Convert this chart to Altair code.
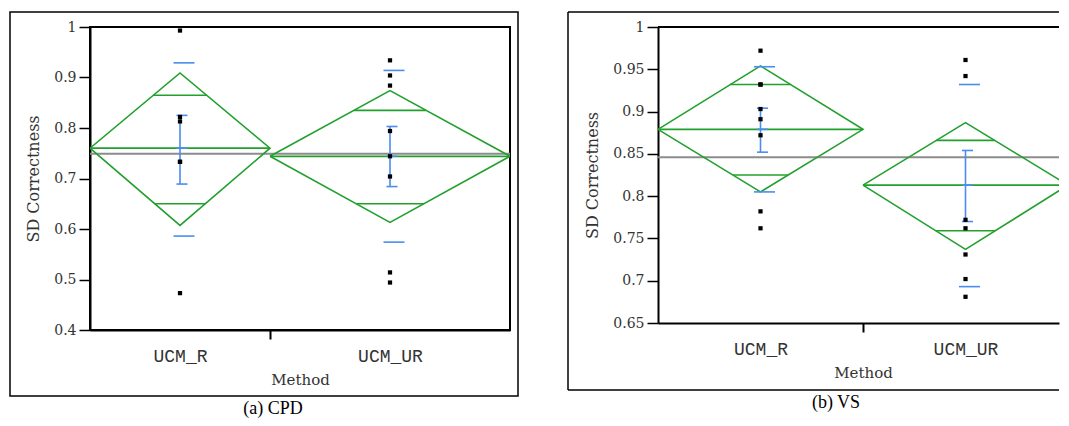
import altair as alt
import pandas as pd

METHODS = ["UCM_R", "UCM_UR"]

# ---------- panel (a) CPD ----------
A_N = [6, 8]
A_MEAN = [0.760, 0.744]
A_CI_HI = [0.909, 0.874]
A_CI_LO = [0.607, 0.613]
A_OV_HI = [0.865, 0.835]
A_OV_LO = [0.650, 0.650]
A_SE_HI = [0.825, 0.803]
A_SE_LO = [0.689, 0.684]
A_SD_HI = [0.929, 0.914]
A_SD_LO = [0.586, 0.574]
A_GRAND = 0.749
A_PTS = [
    [0.993, 0.822, 0.813, 0.733, 0.733, 0.473],
    [0.934, 0.904, 0.884, 0.794, 0.744, 0.704, 0.514, 0.494],
]
A_TICKS = [0.4, 0.5, 0.6, 0.7, 0.8, 0.9, 1.0]

# ---------- panel (b) VS ----------
B_N = [8, 8]
B_MEAN = [0.879, 0.813]
B_CI_HI = [0.954, 0.887]
B_CI_LO = [0.805, 0.737]
B_OV_HI = [0.932, 0.866]
B_OV_LO = [0.825, 0.759]
B_SE_HI = [0.904, 0.854]
B_SE_LO = [0.852, 0.770]
B_SD_HI = [0.953, 0.932]
B_SD_LO = [0.805, 0.693]
B_GRAND = 0.846
B_PTS = [
    [0.972, 0.932, 0.932, 0.903, 0.891, 0.872, 0.782, 0.762],
    [0.961, 0.942, 0.772, 0.762, 0.731, 0.702, 0.681],
]
B_TICKS = [0.65, 0.7, 0.75, 0.8, 0.85, 0.9, 0.95, 1.0]

GREEN = "#22a02e"
BLUE = "#4a8cf2"
GRAY = "#8c8c8c"
SERIF = "DejaVu Serif"
MONO = "Liberation Mono"
CAPFONT = "Liberation Serif, Times New Roman, serif"


def panel(caption, n, mean, ci_hi, ci_lo, ov_hi, ov_lo, se_hi, se_lo, sd_hi, sd_lo,
          grand, pts, ticks, width, full_width, height, box_left, box_bottom, full_box):
    total = sum(n)
    # the picture is cropped at the right edge: show only the visible share of the x range
    visible = total * width / full_width
    starts, centers, ends = [], [], []
    acc = 0
    for k in n:
        starts.append(acc)
        centers.append(acc + k / 2)
        ends.append(acc + k)
        acc += k

    groups = pd.DataFrame({
        "method": METHODS, "x0": starts, "xc": centers, "x1": ends,
        "mean": mean, "se_hi": se_hi, "se_lo": se_lo,
    })

    dia = []
    for i, m in enumerate(METHODS):
        verts = [(starts[i], mean[i]), (centers[i], ci_hi[i]), (ends[i], mean[i]),
                 (centers[i], ci_lo[i]), (starts[i], mean[i])]
        for j, (xx, yy) in enumerate(verts):
            dia.append({"method": m, "o": j, "x": xx, "y": yy})
    dia = pd.DataFrame(dia)

    ov = []
    for i, m in enumerate(METHODS):
        half = n[i] / 2
        for val, ci in ((ov_hi[i], ci_hi[i]), (ov_lo[i], ci_lo[i])):
            frac = 1 - abs(val - mean[i]) / abs(ci - mean[i])
            ov.append({"method": m, "y": val,
                       "xa": centers[i] - half * frac, "xb": centers[i] + half * frac})
    ov = pd.DataFrame(ov)

    caps = []
    for i, m in enumerate(METHODS):
        for v in (se_hi[i], se_lo[i], mean[i]):
            caps.append({"method": m, "x": centers[i], "y": v})
    caps = pd.DataFrame(caps)

    sds = []
    for i, m in enumerate(METHODS):
        for v in (sd_hi[i], sd_lo[i]):
            sds.append({"method": m, "x": centers[i], "y": v})
    sds = pd.DataFrame(sds)

    pdf = pd.DataFrame([{"method": METHODS[i], "x": centers[i], "y": v}
                        for i in range(len(METHODS)) for v in pts[i]])

    gm = pd.DataFrame({"x0": [0], "x1": [total], "y": [grand]})
    dummy = pd.DataFrame({"k": [0]})

    xscale = alt.Scale(domain=[0, visible], nice=False, zero=False)
    yscale = alt.Scale(domain=[ticks[0], ticks[-1]], nice=False, zero=False)

    bounds = ends[:-1]
    lab = "''"
    for i in reversed(range(len(METHODS))):
        lab = f"datum.value == {centers[i]} ? '{METHODS[i]}' : " + lab
    test = " || ".join(f"datum.value == {b}" for b in bounds)

    xaxis = alt.Axis(
        values=centers + bounds, labelExpr=lab, title="Method",
        tickColor={"condition": {"test": test, "value": "black"}, "value": "transparent"},
        tickSize=9, tickWidth=2, labelPadding=8, labelFont=MONO, labelFontSize=18,
        labelColor="#333", labelOverlap=False, labelFlush=False,
        domainColor="black", domainWidth=2, grid=False,
        titleFont=SERIF, titleFontSize=15, titleFontWeight="normal",
        titleColor="#333", titlePadding=7, titleX=full_width / 2,
    )
    yaxis = alt.Axis(
        values=ticks, format="~g", title="SD Correctness", tickSize=11,
        tickColor="black", tickWidth=1.5, labelPadding=3, labelFont=SERIF,
        labelFontSize=14, labelColor="#333", labelOverlap=False, labelFlush=False,
        domainColor="black", domainWidth=2, grid=False,
        titleFont=SERIF, titleFontSize=16, titleFontWeight="normal",
        titleColor="#333", titlePadding=12,
    )

    def X(f):
        return alt.X(f, type="quantitative", scale=xscale, axis=xaxis)

    def Y(f):
        return alt.Y(f, type="quantitative", scale=yscale, axis=yaxis)

    grand_layer = alt.Chart(gm).mark_rule(color=GRAY, strokeWidth=1.8, clip=True).encode(
        x=X("x0"), x2="x1:Q", y=Y("y"),
    )
    diamond = alt.Chart(dia).mark_line(color=GREEN, strokeWidth=1.6, clip=True).encode(
        x=X("x"), y=Y("y"), detail="method:N", order="o:Q",
    )
    mean_line = alt.Chart(groups).mark_rule(color=GREEN, strokeWidth=1.8, clip=True).encode(
        x=X("x0"), x2="x1:Q", y=Y("mean"),
    )
    overlap = alt.Chart(ov).mark_rule(color=GREEN, strokeWidth=1.6).encode(
        x=X("xa"), x2="xb:Q", y=Y("y"),
    )
    sd_ticks = alt.Chart(sds).mark_tick(
        color=BLUE, orient="horizontal", size=21, thickness=1.6, xOffset=4, opacity=1
    ).encode(x=X("x"), y=Y("y"))
    se_bar = alt.Chart(groups).mark_rule(color=BLUE, strokeWidth=1.6).encode(
        x=X("xc"), y=Y("se_lo"), y2="se_hi:Q",
    )
    cap_ticks = alt.Chart(caps).mark_tick(
        color=BLUE, orient="horizontal", size=11, thickness=1.6, xOffset=2, opacity=1
    ).encode(x=X("x"), y=Y("y"))
    points = alt.Chart(pdf).mark_square(color="black", size=18, opacity=1).encode(
        x=X("x"), y=Y("y"),
    )

    layers = [grand_layer, diamond, mean_line, overlap, sd_ticks, se_bar, cap_ticks, points]

    if full_box:
        box = alt.Chart(dummy).mark_rect(filled=False, stroke="black", strokeWidth=1.5).encode(
            x=alt.value(box_left), x2=alt.value(width + 8),
            y=alt.value(-15), y2=alt.value(height + box_bottom),
        )
        layers.append(box)
        view = alt.ViewBackground(stroke="black", strokeWidth=2)
    else:
        rules = [
            dict(x=alt.value(0), x2=alt.value(width), y=alt.value(0), w=2),
            dict(x=alt.value(box_left), x2=alt.value(width), y=alt.value(-15), w=1.5),
            dict(x=alt.value(box_left), x2=alt.value(width), y=alt.value(height + box_bottom), w=1.5),
        ]
        for r in rules:
            layers.append(alt.Chart(dummy).mark_rule(color="black", strokeWidth=r["w"]).encode(
                x=r["x"], x2=r["x2"], y=r["y"]))
        layers.append(alt.Chart(dummy).mark_rule(color="black", strokeWidth=1.5).encode(
            x=alt.value(box_left), y=alt.value(-15), y2=alt.value(height + box_bottom)))
        view = alt.ViewBackground(stroke="transparent")

    return alt.layer(*layers).properties(
        width=width, height=height, view=view,
        title=alt.TitleParams(
            caption, orient="bottom", anchor="middle", frame="group",
            dx=full_width / 2 - 27 - width / 2, offset=3, font=CAPFONT, fontSize=18,
            fontWeight="normal", color="black",
        ),
    )


pa = panel("(a) CPD", A_N, A_MEAN, A_CI_HI, A_CI_LO, A_OV_HI, A_OV_LO, A_SE_HI, A_SE_LO,
           A_SD_HI, A_SD_LO, A_GRAND, A_PTS, A_TICKS, 420, 420, 303, -80, 66, True)
pb = panel("(b) VS", B_N, B_MEAN, B_CI_HI, B_CI_LO, B_OV_HI, B_OV_LO, B_SE_HI, B_SE_LO,
           B_SD_HI, B_SD_LO, B_GRAND, B_PTS, B_TICKS, 401, 410, 296, -90, 67, False)

chart = alt.hconcat(pa, pb, spacing=46).properties(
    padding={"left": 0, "top": 2, "right": 0, "bottom": 0},
    background="white",
)

chart.save("out.html", embed_options={"renderer": "svg", "actions": False})
